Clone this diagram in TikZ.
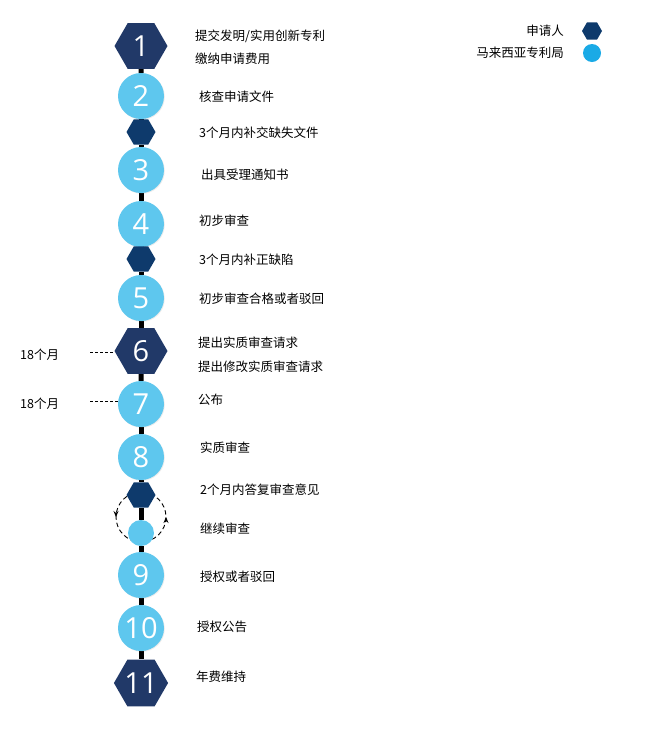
\documentclass[tikz,border=0pt]{standalone}
\usepackage{fontspec}
\setmainfont{Open Sans}
\newfontfamily\cjk{Noto Sans CJK SC}
\usepackage{tikz}
\usetikzlibrary{positioning,shapes.geometric,arrows.meta,backgrounds,decorations.markings,shadows}

\definecolor{hexnavy}{RGB}{33,57,104}
\definecolor{sidenavy}{RGB}{14,58,108}
\definecolor{stepblue}{RGB}{94,199,238}
\definecolor{legendblue}{RGB}{26,170,230}

\tikzset{
  bighex/.style={regular polygon, regular polygon sides=6, minimum size=53pt, inner sep=0pt,
    fill=hexnavy, text=white, font=\fontsize{29}{29}\selectfont},
  bigdot/.style={circle, minimum size=46pt, inner sep=0pt, fill=stepblue, text=white,
    font=\fontsize{29}{29}\selectfont,
    drop shadow={opacity=0.15, shadow xshift=0.8pt, shadow yshift=-0.8pt}},
  sidehex/.style={regular polygon, regular polygon sides=6, minimum size=29pt, inner sep=0pt, fill=sidenavy},
  sidedot/.style={circle, minimum size=26pt, inner sep=0pt, fill=stepblue},
  steptext/.style={anchor=west, inner sep=0pt, font=\cjk\fontsize{12.5}{14}\selectfont},
  spine/.style={line width=5pt, black},
  monthline/.style={black, dash pattern=on 3pt off 2pt, line width=0.8pt},
  loopline/.style={black, dash pattern=on 4.5pt off 3pt, line width=0.9pt,
    postaction={decorate, decoration={markings,
      mark=at position 0.25 with {\arrow{Stealth[length=6pt,width=5pt]}},
      mark=at position 0.75 with {\arrow{Stealth[length=6pt,width=5pt]}}}}},
}

\begin{document}
\begin{tikzpicture}[x=1pt, y=-1pt]
    \useasboundingbox (0,0) rectangle (667,729);

    % main steps
    \foreach \n/\y in {1/46, 6/351, 11/683}
        \node[bighex] (n\n) at (141,\y) {\n};
    \foreach \n/\y in {2/96, 3/170, 4/224, 5/298, 7/404, 8/457, 9/575, 10/628}
        \node[bigdot] (n\n) at (141,\y) {\n};

    % side steps
    \node[sidehex] (s1) at (141,132) {};
    \node[sidehex] (s2) at (141,259) {};
    \node[sidehex] (s3) at (141,495) {};
    \node[sidedot] (s4) at (141,533) {};

    \begin{scope}[on background layer]
        \foreach \a/\b in {n1/n2, n2/s1, s1/n3, n3/n4, n4/s2, s2/n5, n5/n6, n6/n7,
                           n7/n8, n8/s3, s3/s4, s4/n9, n9/n10, n10/n11}
            \draw[spine] (\a) -- (\b);
        \coordinate (loop) at (141,517);
        \draw[loopline] ([yshift=25pt]loop) arc[start angle=90, end angle=450, radius=25pt];
    \end{scope}

    % texts
    \node[steptext] (t1) at (195,36) {提交发明/实用创新专利};
    \node[steptext] (t1b) at (195,59) {缴纳申请费用};
    \node[steptext] (t2) at (199,97) {核查申请文件};
    \node[steptext] (ts1) at (199,133) {3个月内补交缺失文件};
    \node[steptext] (t3) at (201,175) {出具受理通知书};
    \node[steptext] (t4) at (199,221) {初步审查};
    \node[steptext] (ts2) at (199,260) {3个月内补正缺陷};
    \node[steptext] (t5) at (199,299) {初步审查合格或者驳回};
    \node[steptext] (t6) at (198,343) {提出实质审查请求};
    \node[steptext] (t6b) at (198,367) {提出修改实质审查请求};
    \node[steptext] (t7) at (198,400) {公布};
    \node[steptext] (t8) at (200,448) {实质审查};
    \node[steptext] (ts3) at (200,490) {2个月内答复审查意见};
    \node[steptext] (ts4) at (200,529) {继续审查};
    \node[steptext] (t9) at (200,577) {授权或者驳回};
    \node[steptext] (t10) at (197,627) {授权公告};
    \node[steptext] (t11) at (196,677) {年费维持};

    % 18 months
    \node[steptext] (m6) at (20,355) {18个月};
    \node[steptext] (m7) at (20,404) {18个月};
    \coordinate (d6) at (90,352);
    \coordinate (d7) at (90,401);
    \draw[monthline] (d6) -- (d6 -| n6.west);
    \draw[monthline] (d7) -- (d7 -| n7.west);

    % legend
    \node[steptext, anchor=east] (lg1) at (564,31) {申请人};
    \node[steptext, anchor=east] (lg2) at (564,53) {马来西亚专利局};
    \node[regular polygon, regular polygon sides=6, minimum size=20pt, inner sep=0pt, fill=sidenavy] (lh) at (592,31) {};
    \node[circle, minimum size=18pt, inner sep=0pt, fill=legendblue] (lc) at (592,53) {};
\end{tikzpicture}
\end{document}
